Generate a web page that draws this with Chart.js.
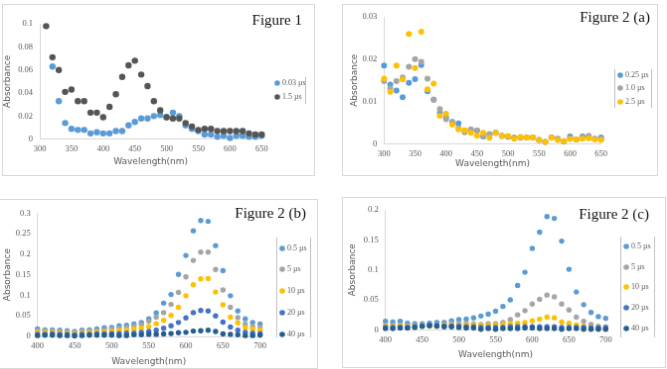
<!DOCTYPE html>
<html>
<head>
<meta charset="utf-8">
<script src="https://cdn.jsdelivr.net/npm/chart.js@4/dist/chart.umd.min.js"></script>
<style>
  body { margin: 0; background: #fff; width: 667px; height: 369px; overflow: hidden; position: relative; }
  canvas { position: absolute; border: 1px solid #D9D9D9; background: #fff; }
</style>
</head>
<body>
<canvas id="fig1" width="313" height="172" style="left:2px;top:4px"></canvas>
<canvas id="fig2a" width="316" height="172" style="left:342px;top:4px"></canvas>
<canvas id="fig2b" width="319" height="170" style="left:-1px;top:199px"></canvas>
<canvas id="fig2c" width="324" height="171" style="left:342px;top:197px"></canvas>
<script>
// Figure 1
const fig1Wavelength = [310, 320, 330, 340, 350, 360, 370, 380, 390, 400, 410, 420, 430, 440, 450, 460, 470, 480, 490, 500, 510, 520, 530, 540, 550, 560, 570, 580, 590, 600, 610, 620, 630, 640, 650]
const fig1Series003 = [null, 0.063, 0.033, 0.014, 0.009, 0.008, 0.008, 0.005, 0.006, 0.005, 0.005, 0.007, 0.007, 0.012, 0.015, 0.018, 0.018, 0.020, 0.021, 0.019, 0.023, 0.020, 0.012, 0.009, 0.007, 0.004, 0.004, 0.002, 0.003, 0.001, 0.003, 0.003, 0.002, 0.002, 0.003]
const fig1Series15 = [0.098, 0.071, 0.060, 0.041, 0.043, 0.033, 0.033, 0.023, 0.023, 0.019, 0.028, 0.039, 0.054, 0.064, 0.068, 0.056, 0.046, 0.033, 0.025, 0.019, 0.018, 0.018, 0.014, 0.011, 0.008, 0.009, 0.009, 0.007, 0.007, 0.007, 0.007, 0.007, 0.005, 0.004, 0.004]
const fig1XTicks = [300, 350, 400, 450, 500, 550, 600, 650]
const fig1YTicks = [0, 0.02, 0.04, 0.06, 0.08, 0.1]

// Figure 2 (a)
const fig2aWavelength = [300, 310, 320, 330, 340, 350, 360, 370, 380, 390, 400, 410, 420, 430, 440, 450, 460, 470, 480, 490, 500, 510, 520, 530, 540, 550, 560, 570, 580, 590, 600, 610, 620, 630, 640, 650]
const fig2aSeries025 = [0.0185, 0.0140, 0.0126, 0.0110, 0.0144, 0.0153, 0.0186, 0.0124, 0.0104, 0.0073, 0.0062, 0.0050, 0.0048, 0.0031, 0.0032, 0.0031, 0.0017, 0.0022, 0.0026, 0.0018, 0.0017, 0.0014, 0.0015, 0.0015, 0.0015, 0.0009, 0.0004, 0.0015, 0.0012, 0.0006, 0.0017, 0.0010, 0.0017, 0.0018, 0.0012, 0.0015]
const fig2aSeries10 = [0.0148, 0.0131, 0.0148, 0.0157, 0.0182, 0.0200, 0.0194, 0.0154, 0.0104, 0.0082, 0.0058, 0.0052, 0.0037, 0.0027, 0.0034, 0.0031, 0.0017, 0.0023, 0.0026, 0.0019, 0.0016, 0.0014, 0.0014, 0.0015, 0.0015, 0.0009, 0.0004, 0.0015, 0.0011, 0.0005, 0.0012, 0.0010, 0.0014, 0.0017, 0.0011, 0.0012]
const fig2aSeries25 = [0.0154, 0.0123, 0.0185, 0.0152, 0.0260, 0.0179, 0.0265, 0.0129, 0.0142, 0.0066, 0.0071, 0.0045, 0.0034, 0.0032, 0.0026, 0.0019, 0.0026, 0.0014, 0.0026, 0.0018, 0.0018, 0.0012, 0.0016, 0.0015, 0.0015, 0.0009, 0.0004, 0.0014, 0.0009, 0.0006, 0.0011, 0.0010, 0.0012, 0.0013, 0.0010, 0.0009]
const fig2aXTicks = [300, 350, 400, 450, 500, 550, 600, 650]
const fig2aYTicks = [0, 0.01, 0.02, 0.03]

// Figure 2 (b)
const fig2bWavelength = [400, 410, 420, 430, 440, 450, 460, 470, 480, 490, 500, 510, 520, 530, 540, 550, 560, 570, 580, 590, 600, 610, 620, 630, 640, 650, 660, 670, 680, 690, 700]
const fig2bSeries05 = [0.018, 0.016, 0.016, 0.015, 0.014, 0.012, 0.015, 0.016, 0.018, 0.021, 0.022, 0.026, 0.027, 0.030, 0.034, 0.043, 0.057, 0.081, 0.102, 0.151, 0.197, 0.257, 0.282, 0.280, 0.221, 0.160, 0.099, 0.062, 0.043, 0.034, 0.030]
const fig2bSeries5 = [0.014, 0.013, 0.013, 0.012, 0.011, 0.010, 0.012, 0.013, 0.014, 0.016, 0.018, 0.020, 0.022, 0.025, 0.029, 0.037, 0.047, 0.058, 0.078, 0.107, 0.145, 0.185, 0.205, 0.205, 0.163, 0.113, 0.071, 0.046, 0.030, 0.024, 0.022]
const fig2bSeries10 = [0.010, 0.009, 0.009, 0.008, 0.008, 0.007, 0.008, 0.009, 0.010, 0.011, 0.012, 0.014, 0.016, 0.018, 0.020, 0.024, 0.031, 0.039, 0.051, 0.071, 0.099, 0.126, 0.140, 0.141, 0.108, 0.077, 0.047, 0.033, 0.021, 0.018, 0.016]
const fig2bSeries20 = [0.005, 0.005, 0.006, 0.005, 0.005, 0.004, 0.005, 0.005, 0.006, 0.006, 0.007, 0.007, 0.008, 0.008, 0.010, 0.012, 0.015, 0.020, 0.026, 0.034, 0.045, 0.058, 0.063, 0.062, 0.050, 0.035, 0.023, 0.015, 0.010, 0.008, 0.007]
const fig2bSeries40 = [0.002, 0.003, 0.003, 0.002, 0.002, 0.001, 0.002, 0.003, 0.003, 0.003, 0.003, 0.002, 0.002, 0.004, 0.004, 0.005, 0.005, 0.006, 0.007, 0.009, 0.010, 0.013, 0.014, 0.015, 0.012, 0.006, 0.005, 0.004, 0.002, 0.002, 0.003]
const fig2bXTicks = [400, 450, 500, 550, 600, 650, 700]
const fig2bYTicks = [0, 0.05, 0.1, 0.15, 0.2, 0.25, 0.3]

// Figure 2 (c)
const fig2cWavelength = [400, 410, 420, 430, 440, 450, 460, 470, 480, 490, 500, 510, 520, 530, 540, 550, 560, 570, 580, 590, 600, 610, 620, 630, 640, 650, 660, 670, 680, 690, 700]
const fig2cSeries05 = [0.014, 0.013, 0.014, 0.011, 0.010, 0.010, 0.011, 0.012, 0.012, 0.015, 0.017, 0.018, 0.020, 0.023, 0.026, 0.031, 0.039, 0.050, 0.074, 0.096, 0.136, 0.163, 0.189, 0.186, 0.148, 0.101, 0.063, 0.042, 0.029, 0.022, 0.019]
const fig2cSeries5 = [0.007, 0.007, 0.008, 0.007, 0.007, 0.008, 0.008, 0.008, 0.009, 0.010, 0.010, 0.011, 0.010, 0.009, 0.010, 0.010, 0.012, 0.017, 0.025, 0.032, 0.043, 0.051, 0.058, 0.055, 0.043, 0.033, 0.021, 0.014, 0.009, 0.006, 0.005]
const fig2cSeries10 = [0.006, 0.005, 0.006, 0.005, 0.005, 0.006, 0.006, 0.006, 0.007, 0.007, 0.007, 0.008, 0.008, 0.007, 0.007, 0.008, 0.009, 0.010, 0.011, 0.012, 0.015, 0.018, 0.021, 0.020, 0.013, 0.011, 0.008, 0.006, 0.004, 0.002, 0.001]
const fig2cSeries20 = [0.004, 0.004, 0.004, 0.004, 0.005, 0.006, 0.007, 0.007, 0.006, 0.006, 0.006, 0.005, 0.005, 0.004, 0.004, 0.004, 0.004, 0.005, 0.005, 0.005, 0.005, 0.005, 0.005, 0.005, 0.004, 0.004, 0.004, 0.004, 0.003, 0.003, 0.003]
const fig2cSeries40 = [0.002, 0.002, 0.003, 0.003, 0.004, 0.006, 0.007, 0.006, 0.005, 0.005, 0.004, 0.003, 0.003, 0.001, 0.002, 0.001, 0.002, 0.002, 0.002, 0.003, 0.003, 0.002, 0.002, 0.002, 0.001, 0.002, 0.002, 0.001, 0.001, 0.001, 0.001]
const fig2cXTicks = [400, 450, 500, 550, 600, 650, 700]
const fig2cYTicks = [0, 0.05, 0.1, 0.15, 0.2]

const TEXT_COLOR = '#595959'
const AXIS_COLOR = '#D9D9D9'
const TICK_FONT = { family: '"Liberation Serif", serif', size: 8.5 }
const TITLE_FONT = { family: '"DejaVu Sans", sans-serif', size: 9, lineHeight: 1 }

// Panel caption, legend and legend border lines
const panelDecor = {
  id: 'panelDecor',
  afterDraw(chart, args, opts) {
    const ctx = chart.ctx
    ctx.save()
    ctx.fillStyle = '#111'
    ctx.font = '15px "Liberation Serif", serif'
    ctx.textAlign = 'right'
    ctx.textBaseline = 'middle'
    ctx.fillText(opts.title, opts.titleX, opts.titleY)

    ctx.font = '8px "Liberation Serif", serif'
    ctx.textAlign = 'left'
    chart.data.datasets.forEach((ds, i) => {
      const y = opts.legendY[i]
      ctx.beginPath()
      ctx.arc(opts.legendX, y, 2.8, 0, Math.PI * 2)
      ctx.fillStyle = ds.backgroundColor
      ctx.fill()
      ctx.fillStyle = TEXT_COLOR
      ctx.fillText(ds.label, opts.legendX + 5, y)
    })

    ctx.strokeStyle = '#BFBFBF'
    ctx.lineWidth = 1
    opts.legendLines.forEach((x) => {
      ctx.beginPath()
      ctx.moveTo(x + 0.5, opts.legendTop)
      ctx.lineTo(x + 0.5, opts.legendBottom)
      ctx.stroke()
    })
    ctx.restore()
  },
}

function makeChart(id, cfg) {
  const datasets = cfg.series.map((s, i) => ({
    label: s.label,
    data: cfg.x
      .map((x, j) => ({ x: x, y: s.values[j] }))
      .filter((p) => p.y !== null),
    backgroundColor: s.color,
    borderWidth: 0,
    pointRadius: cfg.radius,
    order: -i,
    clip: false,
  }))

  new Chart(document.getElementById(id), {
    type: 'scatter',
    data: { datasets: datasets },
    options: {
      responsive: false,
      animation: false,
      events: [],
      layout: { padding: cfg.padding },
      plugins: {
        legend: { display: false },
        tooltip: { enabled: false },
        panelDecor: cfg.decor,
      },
      scales: {
        x: {
          type: 'linear',
          min: cfg.xTicks[0],
          max: cfg.xTicks[cfg.xTicks.length - 1],
          afterBuildTicks: (s) => { s.ticks = cfg.xTicks.map((v) => ({ value: v })) },
          afterFit: (s) => { s.height = cfg.xAxisHeight },
          grid: { display: false, drawTicks: false },
          border: { color: AXIS_COLOR },
          ticks: { color: TEXT_COLOR, font: TICK_FONT, padding: 5, maxRotation: 0, callback: (v) => String(v) },
          title: { display: true, text: 'Wavelength(nm)', color: TEXT_COLOR, font: TITLE_FONT, padding: 0 },
        },
        y: {
          type: 'linear',
          min: cfg.yTicks[0],
          max: cfg.yTicks[cfg.yTicks.length - 1],
          afterBuildTicks: (s) => { s.ticks = cfg.yTicks.map((v) => ({ value: v })) },
          afterFit: (s) => { s.width = cfg.yAxisWidth },
          grid: { display: false, drawTicks: false },
          border: { color: AXIS_COLOR },
          ticks: { color: TEXT_COLOR, font: TICK_FONT, padding: 7, callback: (v) => String(v) },
          title: { display: true, text: 'Absorbance', color: TEXT_COLOR, font: TITLE_FONT, padding: 0 },
        },
      },
    },
    plugins: [panelDecor],
  })
}

makeChart('fig1', {
  x: fig1Wavelength,
  xTicks: fig1XTicks,
  yTicks: fig1YTicks,
  radius: 3.2,
  series: [
    { label: '0.03 µs', values: fig1Series003, color: '#5B9BD5' },
    { label: '1.5 µs', values: fig1Series15, color: '#555555' },
  ],
  padding: { left: 0, top: 19, right: 52.7, bottom: 8.5 },
  yAxisWidth: 37,
  xAxisHeight: 27.8,
  decor: {
    title: 'Figure 1', titleX: 301, titleY: 16,
    legendX: 276, legendY: [79, 93],
    legendLines: [304], legendTop: 73, legendBottom: 100,
  },
})

makeChart('fig2a', {
  x: fig2aWavelength,
  xTicks: fig2aXTicks,
  yTicks: fig2aYTicks,
  radius: 3,
  series: [
    { label: '0.25 µs', values: fig2aSeries025, color: '#5B9BD5' },
    { label: '1.0 µs', values: fig2aSeries10, color: '#A5A5A5' },
    { label: '2.5 µs', values: fig2aSeries25, color: '#FFC000' },
  ],
  padding: { left: 7, top: 10, right: 56.3, bottom: 7 },
  yAxisWidth: 34.3,
  xAxisHeight: 24.7,
  decor: {
    title: 'Figure 2 (a)', titleX: 309, titleY: 13,
    legendX: 279, legendY: [71, 84, 98],
    legendLines: [273, 310], legendTop: 65, legendBottom: 104,
  },
})

makeChart('fig2b', {
  x: fig2bWavelength,
  xTicks: fig2bXTicks,
  yTicks: fig2bYTicks,
  radius: 2.7,
  series: [
    { label: '0.5 µs', values: fig2bSeries05, color: '#5B9BD5' },
    { label: '5 µs', values: fig2bSeries5, color: '#A5A5A5' },
    { label: '10 µs', values: fig2bSeries10, color: '#FFC000' },
    { label: '20 µs', values: fig2bSeries20, color: '#4472C4' },
    { label: '40 µs', values: fig2bSeries40, color: '#255E91' },
  ],
  padding: { left: 3, top: 13.3, right: 57.3, bottom: 2 },
  yAxisWidth: 34.7,
  xAxisHeight: 30,
  decor: {
    title: 'Figure 2 (b)', titleX: 308, titleY: 14,
    legendX: 284, legendY: [49, 70, 92, 114, 136],
    legendLines: [278, 312], legendTop: 38, legendBottom: 139,
  },
})

makeChart('fig2c', {
  x: fig2cWavelength,
  xTicks: fig2cXTicks,
  yTicks: fig2cYTicks,
  radius: 2.7,
  series: [
    { label: '0.5 µs', values: fig2cSeries05, color: '#5B9BD5' },
    { label: '5 µs', values: fig2cSeries5, color: '#A5A5A5' },
    { label: '10 µs', values: fig2cSeries10, color: '#FFC000' },
    { label: '20 µs', values: fig2cSeries20, color: '#4472C4' },
    { label: '40 µs', values: fig2cSeries40, color: '#255E91' },
  ],
  padding: { left: 5, top: 8.7, right: 59.7, bottom: 8 },
  yAxisWidth: 37.7,
  xAxisHeight: 29.7,
  decor: {
    title: 'Figure 2 (c)', titleX: 308, titleY: 17,
    legendX: 285, legendY: [49, 70, 90, 111, 132],
    legendLines: [279, 313], legendTop: 39, legendBottom: 141,
  },
})
</script>
</body>
</html>
